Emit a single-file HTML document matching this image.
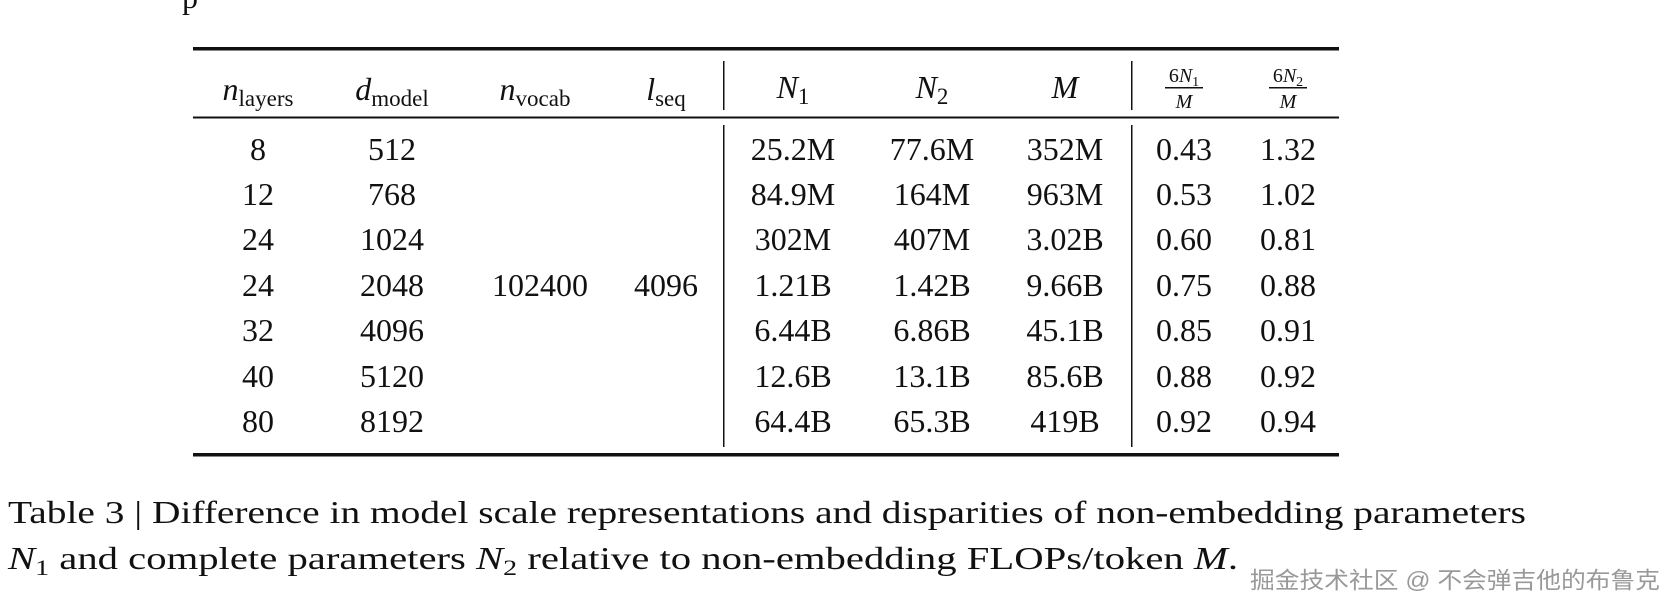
<!DOCTYPE html>
<html><head><meta charset="utf-8"><style>
html,body{margin:0;padding:0;background:#fff;}
svg{display:block;}
text{font-family:"Liberation Serif",serif;fill:#111;}
</style></head><body>
<svg width="1674" height="606" viewBox="0 0 1674 606" xmlns="http://www.w3.org/2000/svg">
<text x="182" y="8" font-size="32">p</text>
<rect x="193" y="47" width="1146" height="3.5" fill="#111"/>
<rect x="193" y="116.5" width="1146" height="2" fill="#111"/>
<rect x="193" y="453" width="1146" height="3.5" fill="#111"/>
<rect x="723" y="61" width="1.5" height="49" fill="#111"/>
<rect x="1131" y="61" width="1.5" height="49" fill="#111"/>
<rect x="723" y="125" width="1.5" height="322" fill="#111"/>
<rect x="1131" y="125" width="1.5" height="322" fill="#111"/>
<g font-size="32" text-anchor="middle">
<text x="258" y="100"><tspan font-style="italic">n</tspan><tspan font-size="23" dy="6">layers</tspan></text>
<text x="392" y="100"><tspan font-style="italic">d</tspan><tspan font-size="23" dy="6">model</tspan></text>
<text x="535" y="100"><tspan font-style="italic">n</tspan><tspan font-size="23" dy="6">vocab</tspan></text>
<text x="666" y="100"><tspan font-style="italic">l</tspan><tspan font-size="23" dy="6">seq</tspan></text>
<text x="793" y="98"><tspan font-style="italic">N</tspan><tspan font-size="23" dy="6">1</tspan></text>
<text x="932" y="98"><tspan font-style="italic">N</tspan><tspan font-size="23" dy="6">2</tspan></text>
<text x="1065" y="98" font-style="italic">M</text>
<g font-size="20">
<text x="1184" y="82">6<tspan font-style="italic">N</tspan><tspan font-size="14" dy="4">1</tspan></text>
<text x="1184" y="108" font-style="italic">M</text>
<text x="1288" y="82">6<tspan font-style="italic">N</tspan><tspan font-size="14" dy="4">2</tspan></text>
<text x="1288" y="108" font-style="italic">M</text>
</g>
<rect x="1165" y="87" width="38" height="1.5" fill="#111"/>
<rect x="1269" y="87" width="38" height="1.5" fill="#111"/>
<g>
<text x="258" y="160">8</text><text x="392" y="160">512</text><text x="793" y="160">25.2M</text><text x="932" y="160">77.6M</text><text x="1065" y="160">352M</text><text x="1184" y="160">0.43</text><text x="1288" y="160">1.32</text>
<text x="258" y="205">12</text><text x="392" y="205">768</text><text x="793" y="205">84.9M</text><text x="932" y="205">164M</text><text x="1065" y="205">963M</text><text x="1184" y="205">0.53</text><text x="1288" y="205">1.02</text>
<text x="258" y="250">24</text><text x="392" y="250">1024</text><text x="793" y="250">302M</text><text x="932" y="250">407M</text><text x="1065" y="250">3.02B</text><text x="1184" y="250">0.60</text><text x="1288" y="250">0.81</text>
<text x="258" y="296">24</text><text x="392" y="296">2048</text><text x="540" y="296">102400</text><text x="666" y="296">4096</text><text x="793" y="296">1.21B</text><text x="932" y="296">1.42B</text><text x="1065" y="296">9.66B</text><text x="1184" y="296">0.75</text><text x="1288" y="296">0.88</text>
<text x="258" y="341">32</text><text x="392" y="341">4096</text><text x="793" y="341">6.44B</text><text x="932" y="341">6.86B</text><text x="1065" y="341">45.1B</text><text x="1184" y="341">0.85</text><text x="1288" y="341">0.91</text>
<text x="258" y="387">40</text><text x="392" y="387">5120</text><text x="793" y="387">12.6B</text><text x="932" y="387">13.1B</text><text x="1065" y="387">85.6B</text><text x="1184" y="387">0.88</text><text x="1288" y="387">0.92</text>
<text x="258" y="432">80</text><text x="392" y="432">8192</text><text x="793" y="432">64.4B</text><text x="932" y="432">65.3B</text><text x="1065" y="432">419B</text><text x="1184" y="432">0.92</text><text x="1288" y="432">0.94</text>
</g>
</g>
<text x="8" y="523" font-size="32" textLength="1518" lengthAdjust="spacingAndGlyphs">Table 3 | Difference in model scale representations and disparities of non-embedding parameters</text>
<text x="8" y="569" font-size="32" textLength="1230" lengthAdjust="spacingAndGlyphs"><tspan font-style="italic">N</tspan><tspan font-size="22" dy="6">1</tspan><tspan dy="-6"> and complete parameters </tspan><tspan font-style="italic">N</tspan><tspan font-size="22" dy="6">2</tspan><tspan dy="-6"> relative to non-embedding FLOPs/token </tspan><tspan font-style="italic">M</tspan>.</text>
<text x="1250" y="588" font-size="23" style="font-family:'Liberation Sans','Noto Sans CJK SC',sans-serif;fill:#999" textLength="410" lengthAdjust="spacingAndGlyphs">掘金技术社区 @ 不会弹吉他的布鲁克</text>
</svg>
</body></html>
